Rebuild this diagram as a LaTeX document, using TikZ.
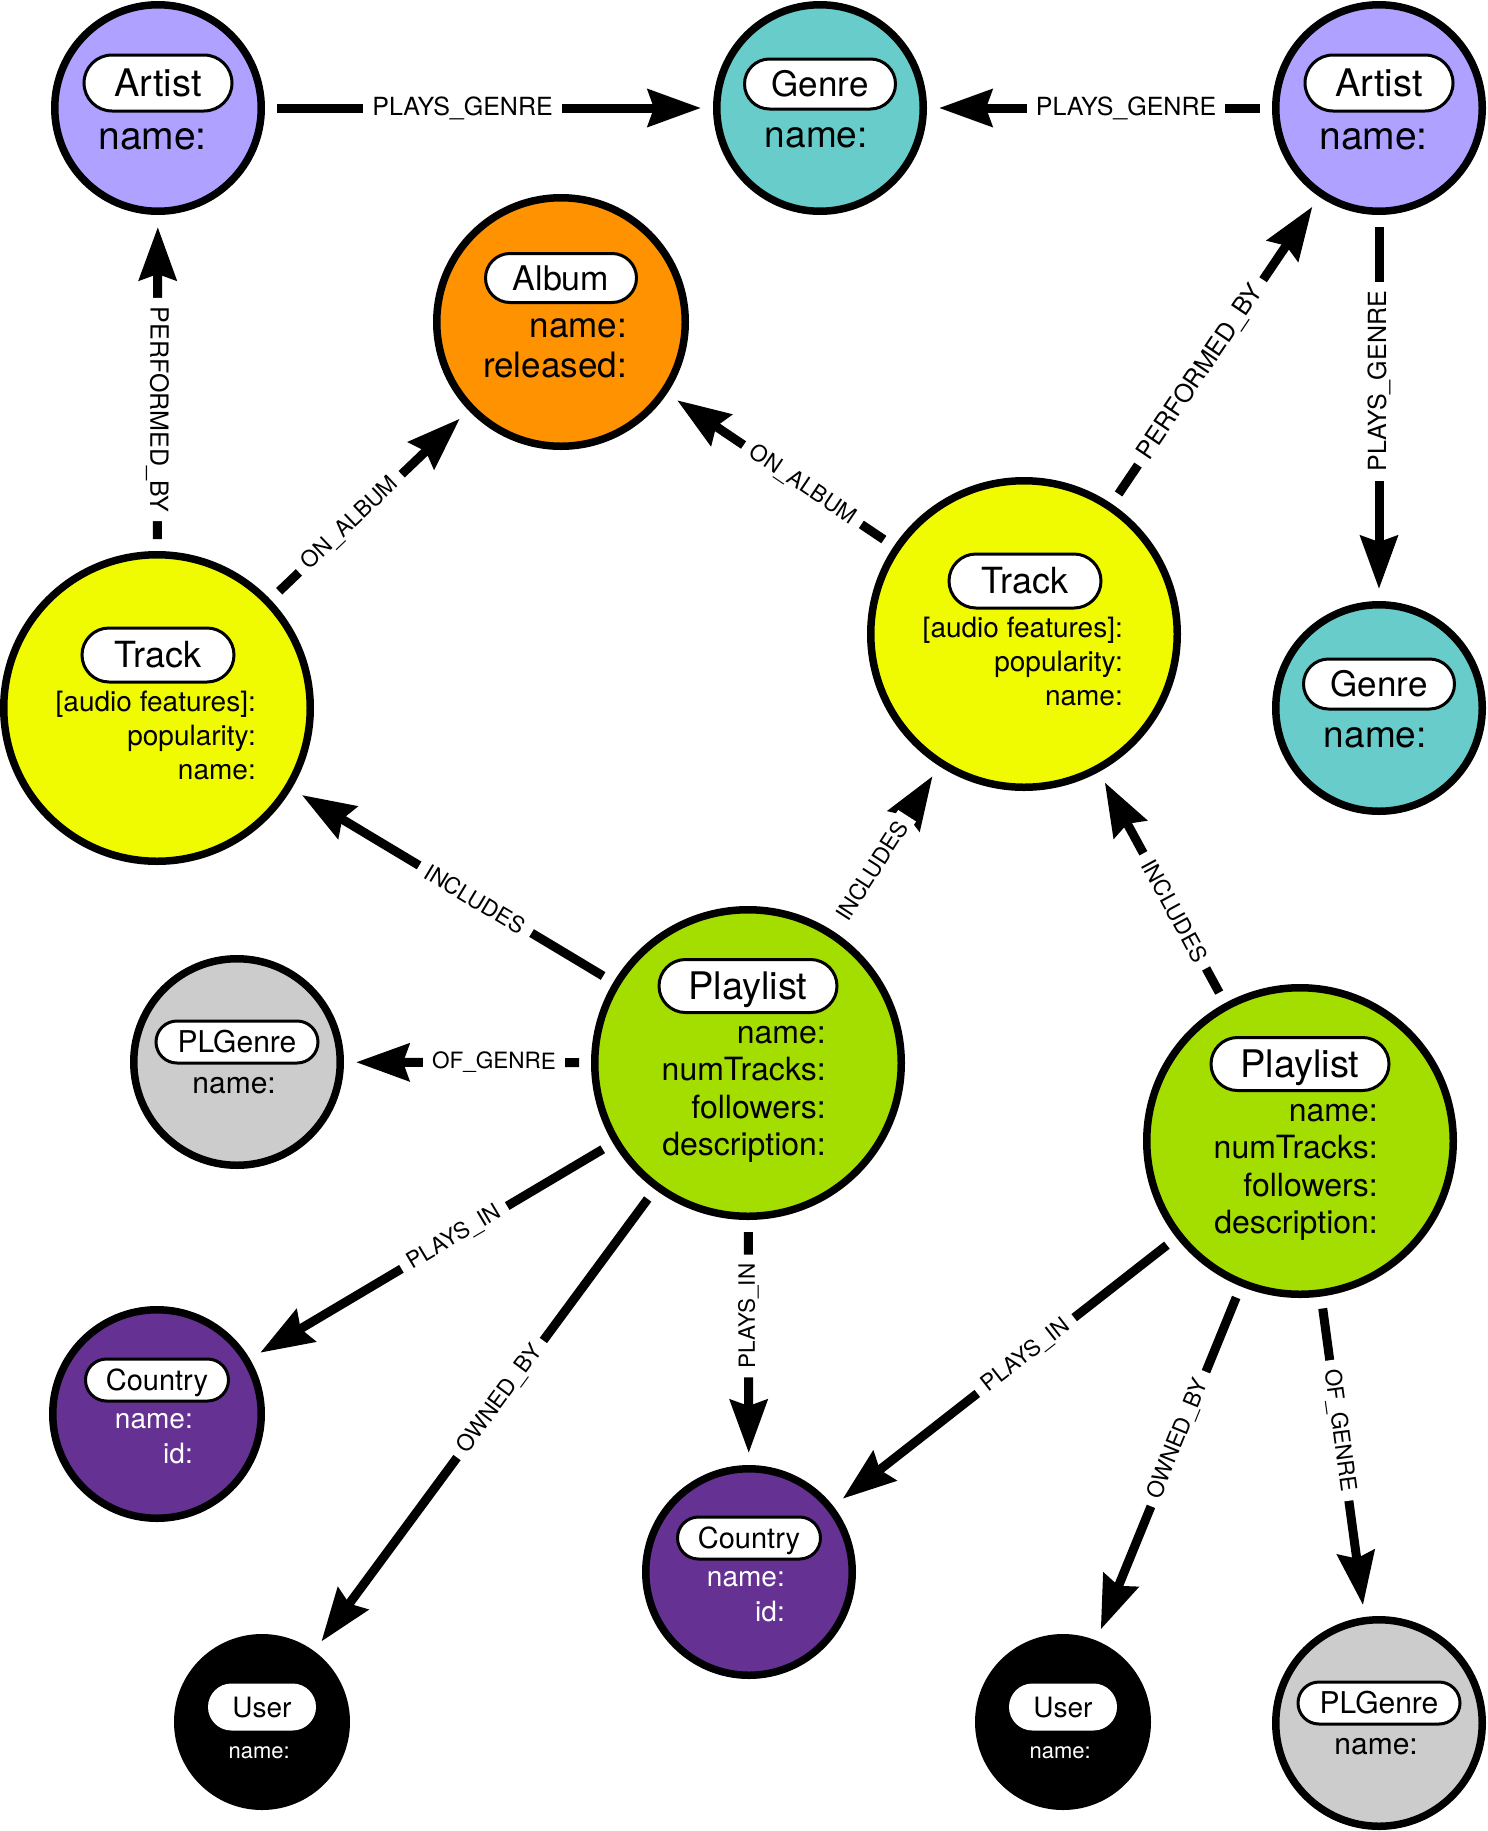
\documentclass[tikz,border=0pt]{standalone}
\usepackage{fontspec}
\setmainfont{TeX Gyre Heros}
\usetikzlibrary{arrows.meta,shapes.misc}
\definecolor{artistc}{HTML}{AEA1FF}
\definecolor{genrec}{HTML}{68CCCA}
\definecolor{albumc}{HTML}{FE9200}
\definecolor{trackc}{RGB}{240,250,0}
\definecolor{playlistc}{HTML}{A4DD00}
\definecolor{plgenrec}{HTML}{CCCCCC}
\definecolor{countryc}{HTML}{653294}
\newcommand{\fs}[1]{\fontsize{#1}{#1}\selectfont}
\begin{document}
\begin{tikzpicture}[x=1pt,y=-1pt,
  nd/.style={circle,draw=black,line width=7.5pt,inner sep=0pt},
  pill/.style={rounded rectangle,draw=black,fill=white,line width=3pt,inner sep=0pt,text depth=0pt},
  prop/.style={anchor=base east,inner sep=0pt},
  edge/.style={line width=9pt,shorten <=12pt,shorten >=12pt},
  fwd/.style={-{Stealth[length=53pt,width=37pt,inset=6pt]}},
  bwd/.style={{Stealth[length=53pt,width=37pt,inset=6pt]}-},
  lab/.style={fill=white,inner xsep=9pt,inner ysep=2pt,sloped,allow upside down,font=\fs{22.5}},
  biglab/.style={lab,font=\fs{25}}]
\useasboundingbox (0,0) rectangle (1488,1831);

% ---- circles ----
\node[nd,fill=artistc,minimum size=206.5pt] (A1) at (158,108) {};
\node[nd,fill=genrec,minimum size=206.5pt] (G1) at (820,108) {};
\node[nd,fill=artistc,minimum size=206.5pt] (A2) at (1379,108) {};
\node[nd,fill=albumc,minimum size=248.5pt] (Al) at (561,322) {};
\node[nd,fill=trackc,minimum size=306.5pt] (T1) at (157,708) {};
\node[nd,fill=trackc,minimum size=306.5pt] (T2) at (1024,634) {};
\node[nd,fill=genrec,minimum size=206.5pt] (G2) at (1379,708) {};
\node[nd,fill=plgenrec,minimum size=206.5pt] (PG1) at (237,1062) {};
\node[nd,fill=playlistc,minimum size=306.5pt] (P1) at (748,1063) {};
\node[nd,fill=playlistc,minimum size=306.5pt] (P2) at (1300,1141) {};
\node[nd,fill=countryc,minimum size=208.5pt] (C1) at (157,1414) {};
\node[nd,fill=countryc,minimum size=206.5pt] (C2) at (749,1572) {};
\node[nd,fill=black,minimum size=168.5pt] (U1) at (262,1722) {};
\node[nd,fill=black,minimum size=168.5pt] (U2) at (1063,1722) {};
\node[nd,fill=plgenrec,minimum size=206.5pt] (PG2) at (1379,1723) {};

% ---- Artist ----
\node[pill,minimum width=148pt,minimum height=56pt,font=\fs{38},text height=27.3pt] (A1t) at ([shift={(0,-25)}]A1.center) {Artist};
\node[prop,font=\fs{39}] (A1p) at ([shift={(49,41)}]A1.center) {name:};
\node[pill,minimum width=148pt,minimum height=56pt,font=\fs{38},text height=27.3pt] (A2t) at ([shift={(0,-25)}]A2.center) {Artist};
\node[prop,font=\fs{39}] (A2p) at ([shift={(49,41)}]A2.center) {name:};
% ---- Genre ----
\node[pill,minimum width=151pt,minimum height=50pt,font=\fs{35},text height=25.2pt] (G1t) at ([shift={(0,-24)}]G1.center) {Genre};
\node[prop,font=\fs{37}] (G1p) at ([shift={(48,39)}]G1.center) {name:};
\node[pill,minimum width=151pt,minimum height=50pt,font=\fs{35},text height=25.2pt] (G2t) at ([shift={(0,-24)}]G2.center) {Genre};
\node[prop,font=\fs{37}] (G2p) at ([shift={(48,39)}]G2.center) {name:};
% ---- Album ----
\node[pill,minimum width=151pt,minimum height=49pt,font=\fs{34},text height=24.5pt] (Alt) at ([shift={(0,-44)}]Al.center) {Album};
\node[prop,font=\fs{35}] (Alp1) at ([shift={(66,15)}]Al.center) {name:};
\node[prop,font=\fs{35}] (Alp2) at ([shift={(66,55)}]Al.center) {released:};
% ---- Track ----
\node[pill,minimum width=152pt,minimum height=54pt,font=\fs{36},text height=25.9pt] (T1t) at ([shift={(1,-53)}]T1.center) {Track};
\node[prop,font=\fs{28}] (T1p1) at ([shift={(99,3)}]T1.center) {[audio features]:};
\node[prop,font=\fs{28}] (T1p2) at ([shift={(99,37)}]T1.center) {popularity:};
\node[prop,font=\fs{28}] (T1p3) at ([shift={(99,71)}]T1.center) {name:};
\node[pill,minimum width=152pt,minimum height=54pt,font=\fs{36},text height=25.9pt] (T2t) at ([shift={(1,-53)}]T2.center) {Track};
\node[prop,font=\fs{28}] (T2p1) at ([shift={(99,3)}]T2.center) {[audio features]:};
\node[prop,font=\fs{28}] (T2p2) at ([shift={(99,37)}]T2.center) {popularity:};
\node[prop,font=\fs{28}] (T2p3) at ([shift={(99,71)}]T2.center) {name:};
% ---- Playlist ----
\node[pill,minimum width=178pt,minimum height=53pt,font=\fs{38},text height=27.3pt] (P1t) at ([shift={(0,-77)}]P1.center) {Playlist};
\node[prop,font=\fs{32}] (P1p1) at ([shift={(78,-20)}]P1.center) {name:};
\node[prop,font=\fs{32}] (P1p2) at ([shift={(78,17)}]P1.center) {numTracks:};
\node[prop,font=\fs{32}] (P1p3) at ([shift={(78,55)}]P1.center) {followers:};
\node[prop,font=\fs{32}] (P1p4) at ([shift={(78,92)}]P1.center) {description:};
\node[pill,minimum width=178pt,minimum height=53pt,font=\fs{38},text height=27.3pt] (P2t) at ([shift={(0,-77)}]P2.center) {Playlist};
\node[prop,font=\fs{32}] (P2p1) at ([shift={(78,-20)}]P2.center) {name:};
\node[prop,font=\fs{32}] (P2p2) at ([shift={(78,17)}]P2.center) {numTracks:};
\node[prop,font=\fs{32}] (P2p3) at ([shift={(78,55)}]P2.center) {followers:};
\node[prop,font=\fs{32}] (P2p4) at ([shift={(78,92)}]P2.center) {description:};
% ---- PLGenre ----
\node[pill,minimum width=162pt,minimum height=42pt,font=\fs{30},text height=21.6pt] (PG1t) at ([shift={(0,-20)}]PG1.center) {PLGenre};
\node[prop,font=\fs{30}] (PG1p) at ([shift={(39,31)}]PG1.center) {name:};
\node[pill,minimum width=162pt,minimum height=42pt,font=\fs{30},text height=21.6pt] (PG2t) at ([shift={(0,-20)}]PG2.center) {PLGenre};
\node[prop,font=\fs{30}] (PG2p) at ([shift={(39,31)}]PG2.center) {name:};
% ---- Country ----
\node[pill,minimum width=143pt,minimum height=42pt,font=\fs{29},text height=20.9pt] (C1t) at ([shift={(0,-34)}]C1.center) {Country};
\node[prop,font=\fs{28},text=white] (C1p1) at ([shift={(36,14)}]C1.center) {name:};
\node[prop,font=\fs{28},text=white] (C1p2) at ([shift={(36,49)}]C1.center) {id:};
\node[pill,minimum width=143pt,minimum height=42pt,font=\fs{29},text height=20.9pt] (C2t) at ([shift={(0,-34)}]C2.center) {Country};
\node[prop,font=\fs{28},text=white] (C2p1) at ([shift={(36,14)}]C2.center) {name:};
\node[prop,font=\fs{28},text=white] (C2p2) at ([shift={(36,49)}]C2.center) {id:};
% ---- User ----
\node[pill,draw=none,minimum width=108pt,minimum height=47pt,font=\fs{28},text height=20.2pt] (U1t) at ([shift={(0,-15)}]U1.center) {User};
\node[prop,font=\fs{22},text=white] (U1p) at ([shift={(28,36)}]U1.center) {name:};
\node[pill,draw=none,minimum width=108pt,minimum height=47pt,font=\fs{28},text height=20.2pt] (U2t) at ([shift={(0,-15)}]U2.center) {User};
\node[prop,font=\fs{22},text=white] (U2p) at ([shift={(28,36)}]U2.center) {name:};

% ---- relationships ----
\draw[edge,fwd] (A1) -- node[biglab,pos=0.441] {PLAYS\_GENRE} (G1);
\draw[edge,bwd] (G1) -- node[biglab,pos=0.577] {PLAYS\_GENRE} (A2);
\draw[edge,bwd] (G2) -- node[biglab,pos=0.569] {PLAYS\_GENRE} (A2);
\draw[edge,bwd] (A1) -- node[biglab,pos=0.579] {PERFORMED\_BY} (T1);
\draw[edge,fwd] (T1) -- node[lab,pos=0.403] {ON\_ALBUM} (Al);
\draw[edge,bwd] (Al) -- node[lab,pos=0.597] {ON\_ALBUM} (T2);
\draw[edge,fwd] (T2) -- node[biglab,pos=0.428] {PERFORMED\_BY} (A2);
\draw[edge,bwd] (T1) -- node[lab,pos=0.571] {INCLUDES} (P1);
\draw[edge,fwd] (P1) -- node[lab,pos=0.365] {INCLUDES} (T2);
\draw[edge,bwd] (T2) -- node[lab,pos=0.601] {INCLUDES} (P2);
\draw[edge,bwd] (PG1) -- node[lab,pos=0.607] {OF\_GENRE} (P1);
\draw[edge,bwd] (C1) -- node[lab,pos=0.563] {PLAYS\_IN} (P1);
\draw[edge,bwd] (U1) -- node[lab,pos=0.546] {OWNED\_BY} (P1);
\draw[edge,bwd] (C2) -- node[lab,pos=0.608] {PLAYS\_IN} (P1);
\draw[edge,bwd] (C2) -- node[lab,pos=0.561] {PLAYS\_IN} (P2);
\draw[edge,bwd] (U2) -- node[lab,pos=0.569] {OWNED\_BY} (P2);
\draw[edge,fwd] (P2) -- node[lab,pos=0.418] {OF\_GENRE} (PG2);
\end{tikzpicture}
\end{document}
